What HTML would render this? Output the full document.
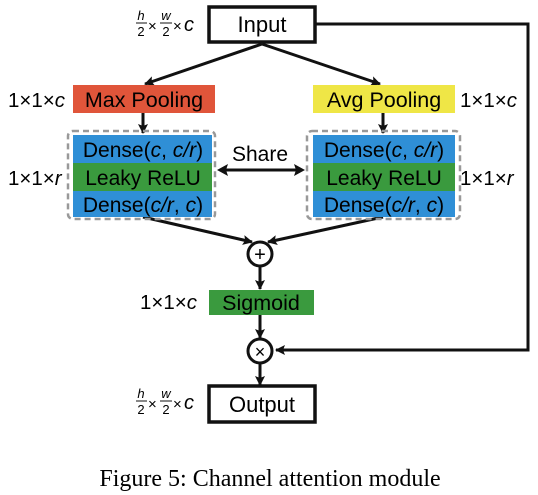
<!DOCTYPE html>
<html><head><style>
body{margin:0;background:#fff;}
svg{display:block;}
.t{font-family:"Liberation Sans",sans-serif;}
</style></head><body>
<svg width="538" height="495" viewBox="0 0 538 495" xmlns="http://www.w3.org/2000/svg">
<defs>
<marker id="b" markerWidth="10" markerHeight="10" refX="9" refY="5" orient="auto" markerUnits="userSpaceOnUse">
<path d="M0,0 L10,5 L0,10 L2,5 z" fill="#111"/></marker>
</defs>
<g stroke="#111" stroke-width="3" fill="none">
<polyline points="316,24 528,24 528,350 276,350" marker-end="url(#b)"/>
<line x1="262" y1="44" x2="145" y2="84" marker-end="url(#b)"/>
<line x1="262" y1="44" x2="380" y2="84" marker-end="url(#b)"/>
<line x1="143" y1="113" x2="143" y2="133" marker-end="url(#b)"/>
<line x1="383" y1="113" x2="383" y2="133" marker-end="url(#b)"/>
<line x1="143" y1="217" x2="252" y2="242" marker-end="url(#b)"/>
<line x1="383" y1="217" x2="268" y2="242" marker-end="url(#b)"/>
<line x1="260" y1="266" x2="260" y2="289" marker-end="url(#b)"/>
<line x1="260" y1="315" x2="260" y2="338" marker-end="url(#b)"/>
<line x1="260" y1="363" x2="260" y2="385" marker-end="url(#b)"/>
<line x1="226" y1="170" x2="296" y2="170"/>
</g>
<path d="M217,170 L228,164 L226,170 L228,176 z" fill="#111"/>
<path d="M305,170 L294,164 L296,170 L294,176 z" fill="#111"/>
<rect x="209" y="7" width="106" height="35" fill="#fff" stroke="#111" stroke-width="3.5"/>
<text class="t" x="262" y="32" font-size="22" text-anchor="middle">Input</text>
<rect x="209" y="386" width="106" height="36" fill="#fff" stroke="#111" stroke-width="3.5"/>
<text class="t" x="262" y="412" font-size="22" text-anchor="middle">Output</text>
<rect x="73" y="85" width="142" height="28" fill="#e0553a"/>
<text class="t" x="144" y="107" font-size="21.5" text-anchor="middle">Max Pooling</text>
<rect x="313" y="85" width="142" height="28" fill="#efe646"/>
<text class="t" x="384" y="107" font-size="21.5" text-anchor="middle">Avg Pooling</text>
<g>
<rect x="68" y="131" width="147" height="88" rx="5" fill="none" stroke="#999" stroke-width="2.5" stroke-dasharray="6,4"/>
<rect x="73" y="135" width="139" height="28" fill="#2f8fd6"/>
<rect x="73" y="163" width="139" height="28" fill="#3a9a3e"/>
<rect x="73" y="191" width="139" height="26" fill="#2f8fd6"/>
<text class="t" x="143" y="157" font-size="21" text-anchor="middle">Dense(<tspan font-style="italic">c</tspan>, <tspan font-style="italic">c/r</tspan>)</text>
<text class="t" x="143" y="185" font-size="21" text-anchor="middle">Leaky ReLU</text>
<text class="t" x="143" y="212" font-size="21" text-anchor="middle">Dense(<tspan font-style="italic">c/r</tspan>, <tspan font-style="italic">c</tspan>)</text>
</g>
<g>
<rect x="307" y="131" width="153" height="88" rx="5" fill="none" stroke="#999" stroke-width="2.5" stroke-dasharray="6,4"/>
<rect x="313" y="135" width="142" height="28" fill="#2f8fd6"/>
<rect x="313" y="163" width="142" height="28" fill="#3a9a3e"/>
<rect x="313" y="191" width="142" height="26" fill="#2f8fd6"/>
<text class="t" x="384" y="157" font-size="21" text-anchor="middle">Dense(<tspan font-style="italic">c</tspan>, <tspan font-style="italic">c/r</tspan>)</text>
<text class="t" x="384" y="185" font-size="21" text-anchor="middle">Leaky ReLU</text>
<text class="t" x="384" y="212" font-size="21" text-anchor="middle">Dense(<tspan font-style="italic">c/r</tspan>, <tspan font-style="italic">c</tspan>)</text>
</g>
<text class="t" x="260" y="161" font-size="21" text-anchor="middle">Share</text>
<circle cx="260" cy="254" r="12" fill="#fff" stroke="#111" stroke-width="3"/>
<text class="t" x="260" y="261" font-size="20" text-anchor="middle">+</text>
<rect x="209" y="290" width="105" height="25" fill="#3a9a3e"/>
<text class="t" x="261" y="310" font-size="21.5" text-anchor="middle">Sigmoid</text>
<circle cx="260" cy="351" r="12" fill="#fff" stroke="#111" stroke-width="3"/>
<text class="t" x="260" y="358" font-size="18" text-anchor="middle">×</text>
<text class="t" x="8" y="107" font-size="20.5">1×1×<tspan font-style="italic">c</tspan></text>
<text class="t" x="460" y="107" font-size="20.5">1×1×<tspan font-style="italic">c</tspan></text>
<text class="t" x="8" y="185" font-size="20.5">1×1×<tspan font-style="italic">r</tspan></text>
<text class="t" x="460" y="185" font-size="20.5">1×1×<tspan font-style="italic">r</tspan></text>
<text class="t" x="140" y="309" font-size="20.5">1×1×<tspan font-style="italic">c</tspan></text>
<g class="t" font-size="13">
<text x="141" y="20" font-style="italic" text-anchor="middle">h</text>
<line x1="136" y1="23" x2="147" y2="23" stroke="#111" stroke-width="1"/>
<text x="141" y="36" text-anchor="middle">2</text>
<text x="148" y="31" font-size="15">×</text>
<text x="166" y="20" font-style="italic" text-anchor="middle">w</text>
<line x1="160" y1="23" x2="172" y2="23" stroke="#111" stroke-width="1"/>
<text x="166" y="36" text-anchor="middle">2</text>
<text x="173" y="31" font-size="15">×</text>
<text x="184" y="31" font-size="20" font-style="italic">c</text>
</g>
<g class="t" font-size="13">
<text x="141" y="398" font-style="italic" text-anchor="middle">h</text>
<line x1="136" y1="401" x2="147" y2="401" stroke="#111" stroke-width="1"/>
<text x="141" y="414" text-anchor="middle">2</text>
<text x="148" y="409" font-size="15">×</text>
<text x="166" y="398" font-style="italic" text-anchor="middle">w</text>
<line x1="160" y1="401" x2="172" y2="401" stroke="#111" stroke-width="1"/>
<text x="166" y="414" text-anchor="middle">2</text>
<text x="173" y="409" font-size="15">×</text>
<text x="184" y="409" font-size="20" font-style="italic">c</text>
</g>
<text x="270" y="486" font-family="'Liberation Serif',serif" font-size="24" text-anchor="middle">Figure 5: Channel attention module</text>
</svg>
</body></html>
